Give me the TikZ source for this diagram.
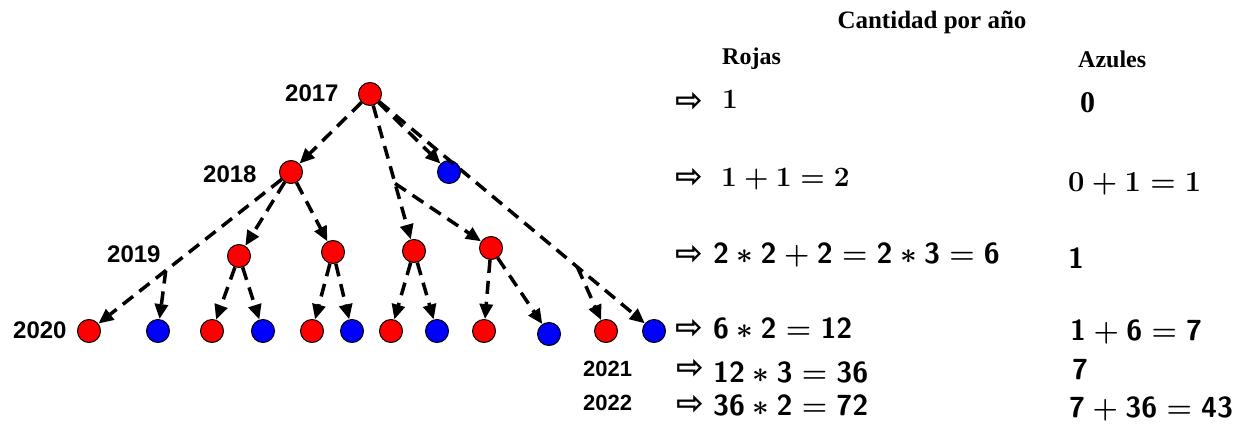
\documentclass[tikz,border=0pt]{standalone}
\usepackage{fix-cm}
\usepackage{fontspec}
\usetikzlibrary{arrows.meta,calc}
\newfontfamily\lsans{Liberation Sans}
\newfontfamily\lserif{Liberation Serif}
\newfontfamily\djv{DejaVu Sans}
\newcommand\myast{${}\ast{}$}
\newcommand\myplus{${}+{}$}
\newcommand\myeq{${}={}$}
\tikzset{
  ball/.style={circle, draw=black, line width=1pt, minimum size=23pt, inner sep=0pt},
  rball/.style={ball, fill=red},
  bball/.style={ball, fill=blue},
  link/.style={line width=3.5pt, dash pattern=on 13pt off 8pt},
  arr/.style={link, -{Triangle[length=15pt,width=13pt]}},
  yr/.style={font=\lsans\bfseries\fontsize{24}{26}\selectfont, anchor=base west, inner sep=0pt},
  yrs/.style={font=\lsans\bfseries\fontsize{22}{24}\selectfont, anchor=base west, inner sep=0pt},
  head/.style={font=\lserif\bfseries\fontsize{24}{26}\selectfont, inner sep=0pt},
  pointer/.style={font=\djv\bfseries\fontsize{33}{35}\selectfont, anchor=west, inner sep=0pt},
  eqr/.style={font=\fontsize{28}{30}\selectfont\boldmath, anchor=base west, inner sep=0pt},
  eqs/.style={font=\fontsize{29}{31}\selectfont\sffamily\bfseries\boldmath, anchor=base west, inner sep=0pt},
}
\begin{document}
\begin{tikzpicture}[x=1pt,y=-1pt]
\useasboundingbox (0,0) rectangle (1244,423);
% tree nodes
\node[rball] (root) at (370,94) {};
\node[rball] (R18) at (291,172) {};
\node[bball] (B18) at (449,172) {};
\node[rball] (R19a) at (239,256) {};
\node[rball] (R19b) at (333,252) {};
\node[rball] (R19c) at (414,251) {};
\node[rball] (R19d) at (491,248) {};
\node[rball] (R20a) at (89,331) {};
\node[bball] (B20a) at (158,331) {};
\node[rball] (R20b) at (212,331) {};
\node[bball] (B20b) at (263,331) {};
\node[rball] (R20c) at (312,331) {};
\node[bball] (B20c) at (352,331) {};
\node[rball] (R20d) at (391,331) {};
\node[bball] (B20d) at (437,331) {};
\node[rball] (R20e) at (484,331) {};
\node[bball] (B20e) at (549,334) {};
\node[rball] (R20f) at (606,331) {};
\node[bball] (B20f) at (654,331) {};
% junctions
\coordinate (J1) at ($(root)!0.57!(R19c)$);
\coordinate (J2) at ($(R18)!0.62!(R20a)$);
\coordinate (J3) at ($(root)!0.73!(B20f)$);
% connectors
\draw[arr] (root) -- (R18);
\draw[arr] (root) -- (B18);
\draw[arr] (root) -- (R19c);
\draw[arr] (J1) -- (R19d);
\draw[arr] (root) -- (B20f);
\draw[arr] (J3) -- (R20f);
\draw[arr] (R18) -- (R19a);
\draw[arr] (R18) -- (R19b);
\draw[arr] (R18) -- (R20a);
\draw[arr] (J2) -- (B20a);
\draw[arr] (R19a) -- (R20b);
\draw[arr] (R19a) -- (B20b);
\draw[arr] (R19b) -- (R20c);
\draw[arr] (R19b) -- (B20c);
\draw[arr] (R19c) -- (R20d);
\draw[arr] (R19c) -- (B20d);
\draw[arr] (R19d) -- (R20e);
\draw[arr] (R19d) -- (B20e);
% year labels
\node[yr] (y17) at (285,101) {2017};
\node[yr] (y18) at (203,182) {2018};
\node[yr] (y19) at (107,262) {2019};
\node[yr] (y20) at (13,338) {2020};
\node[yrs] (y21) at (583,376) {2021};
\node[yrs] (y22) at (583,410) {2022};
% headings
\node[head, font=\lserif\bfseries\fontsize{25}{27}\selectfont, anchor=base] (title) at (932,28) {Cantidad por año};
\node[head, anchor=base west] (rojas) at (722,64) {Rojas};
\node[head, anchor=base west] (azules) at (1078,67) {Azules};
% pointers
\node[pointer] (p1) at (675,102) {⇨};
\node[pointer] (p2) at (675,178) {⇨};
\node[pointer] (p3) at (675,255) {⇨};
\node[pointer] (p4) at (675,329) {⇨};
\node[pointer] (p5) at (676,369) {⇨};
\node[pointer] (p6) at (676,405) {⇨};
% red counts
\node[eqr] (r1) at (722,108) {$1$};
\node[eqr] (r2) at (721,186) {$1+1=2$};
\node[eqs] (r3) at (713,263) {2\myast2\myplus2\myeq2\myast3\myeq6};
\node[eqs] (r4) at (713,338) {6\myast2\myeq12};
\node[eqs] (r5) at (713,382) {12\myast3\myeq36};
\node[eqs] (r6) at (713,415) {36\myast2\myeq72};
% blue counts
\node[eqr, font=\lserif\bfseries\fontsize{30}{32}\selectfont] (b1) at (1080,112) {0};
\node[eqr, font=\fontsize{29}{31}\selectfont\boldmath] (b2) at (1068,191) {$0+1=1$};
\node[eqs] (b3) at (1068,268) {1};
\node[eqs] (b4) at (1070,340) {1\myplus6\myeq7};
\node[eqs] (b5) at (1072,379) {7};
\node[eqs] (b6) at (1069,417) {7\myplus36\myeq43};
\end{tikzpicture}
\end{document}
